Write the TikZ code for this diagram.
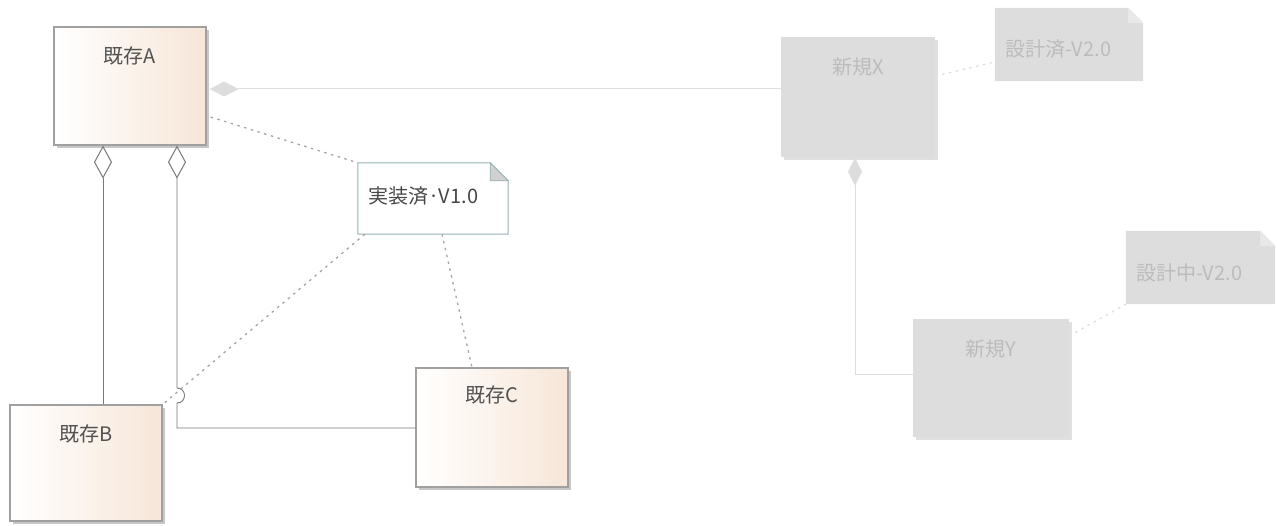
\documentclass[tikz,border=0pt]{standalone}
\usepackage{fontspec}
\newfontfamily\jp{Noto Sans CJK JP}
\usetikzlibrary{arrows.meta,shadows,calc}
\definecolor{peach}{RGB}{247,230,216}
\definecolor{bord}{RGB}{160,160,160}
\definecolor{conncol}{RGB}{120,120,120}
\definecolor{dotcol}{RGB}{165,165,165}
\definecolor{notebord}{RGB}{150,178,178}
\definecolor{ghost}{RGB}{221,221,221}
\definecolor{ghostfold}{RGB}{232,232,232}
\definecolor{ghosttext}{RGB}{188,188,188}
\definecolor{ghostline}{RGB}{222,222,222}
\tikzset{
  cls/.style={draw=bord, line width=1.2pt, left color=white, right color=peach,
    minimum width=152pt, minimum height=118pt, inner sep=0pt,
    general shadow={fill=black!22, shadow xshift=3pt, shadow yshift=-3pt}},
  ghostcls/.style={fill=ghost, draw=none, minimum width=154pt, minimum height=120pt, inner sep=0pt,
    general shadow={fill=black!12, shadow xshift=3pt, shadow yshift=-3pt}},
  ttl/.style={anchor=center, yshift=-30pt, text=black!68},
  gttl/.style={anchor=center, yshift=-30pt, text=ghosttext},
  notebox/.style={draw=none, inner sep=0pt},
  conn/.style={draw=conncol, line width=0.9pt},
  dotted line/.style={draw=dotcol, line width=1.3pt, dash pattern=on 2.5pt off 4.5pt},
  ghostconn/.style={draw=ghostline, line width=1pt},
  ghostdot/.style={draw=ghostline, line width=1.3pt, dash pattern=on 2.5pt off 4.5pt},
  odiam/.tip={Diamond[open, fill=white, length=33pt, width=18pt, line width=1pt]},
  gdiam/.tip={Diamond[open, fill=ghost, length=28pt, width=14pt, line width=1pt]},
  hdiam/.tip={Diamond[open, fill=ghost, length=29pt, width=15pt, line width=1pt]},
}
\begin{document}
\begin{tikzpicture}[x=1pt, y=-1pt, font=\jp\fontsize{20}{24}\selectfont]
\useasboundingbox (0,0) rectangle (1277,526);

% ghost part
\node[ghostcls, label={[gttl]north:新規X}] (X) at (858,97.5) {};
\node[ghostcls, minimum width=156pt, minimum height=118pt, label={[gttl]north:新規Y}] (Y) at (991,378) {};
\node[notebox, minimum width=148pt, minimum height=73pt] (N2) at (1069,44.5) {};
\node[notebox, minimum width=149pt, minimum height=73pt] (N3) at (1200.5,267.5) {};
\foreach \n/\t in {N2/設計済-V2.0, N3/設計中-V2.0}{
  \fill[ghost] (\n.south west) -- (\n.north west) -- ($(\n.north east)+(-15,0)$) -- ($(\n.north east)+(0,15)$) -- (\n.south east) -- cycle;
  \fill[ghostfold] ($(\n.north east)+(-15,0)$) -- ($(\n.north east)+(-15,15)$) -- ($(\n.north east)+(0,15)$) -- cycle;
  \node[text=ghosttext, anchor=west] at ($(\n.west)+(7,5)$) {\t};
}
\draw[ghostconn, gdiam-] (X.south -| 855,0) |- (Y.west |- 0,375);
\draw[ghostdot] (X.east |- 0,76) -- (N2.west |- 0,62);
\draw[ghostdot] (Y.east |- 0,336) -- (N3.south west);

% main classes
\node[cls, label={[ttl]north:既存A}] (A) at (130,86) {};
\node[cls, minimum height=116pt, label={[ttl]north:既存B}] (B) at (86,463) {};
\node[cls, minimum height=119pt, label={[ttl, yshift=2pt]north:既存C}] (C) at (492,427.5) {};

% note
\node[notebox, minimum width=150pt, minimum height=71pt] (N1) at (433,198.5) {};
\draw[draw=notebord, fill=white, line width=1pt] (N1.south west) -- (N1.north west) -- ($(N1.north east)+(-18,0)$) -- ($(N1.north east)+(0,18)$) -- (N1.south east) -- cycle;
\filldraw[draw=notebord, fill=black!18, line width=0.8pt] ($(N1.north east)+(-18,0)$) -- ($(N1.north east)+(-18,18)$) -- ($(N1.north east)+(0,18)$) -- cycle;
\node[anchor=west, text=black!72] (N1t) at ($(N1.west)+(7,-2)$) {実装済·V1.0};

% A - X
\draw[ghostconn, hdiam-] (A.east |- 0,89) ++(3,0) -- (X.west |- 0,89);

% A - B aggregation
\draw[conn, odiam-] (A.south -| 103,0) -- (B.north -| 103,0);
% A - C aggregation with line hop
\coordinate (hop1) at (177,388);
\coordinate (hop2) at (177,403);
\coordinate (bend) at (177,428);
\draw[conn, odiam-] (A.south -| 177,0) -- (hop1) .. controls (187,388) and (187,403) .. (hop2) -- (bend) -- (C.west |- bend);

% dotted note links
\draw[dotted line] ($(A.east |- 0,117)+(4,0)$) -- (N1.north west);
\draw[dotted line] ($(N1.south west)+(7,0)$) -- (B.north east);
\draw[dotted line] (N1.south -| 442,0) -- (C.north -| 472,0);
\end{tikzpicture}
\end{document}
